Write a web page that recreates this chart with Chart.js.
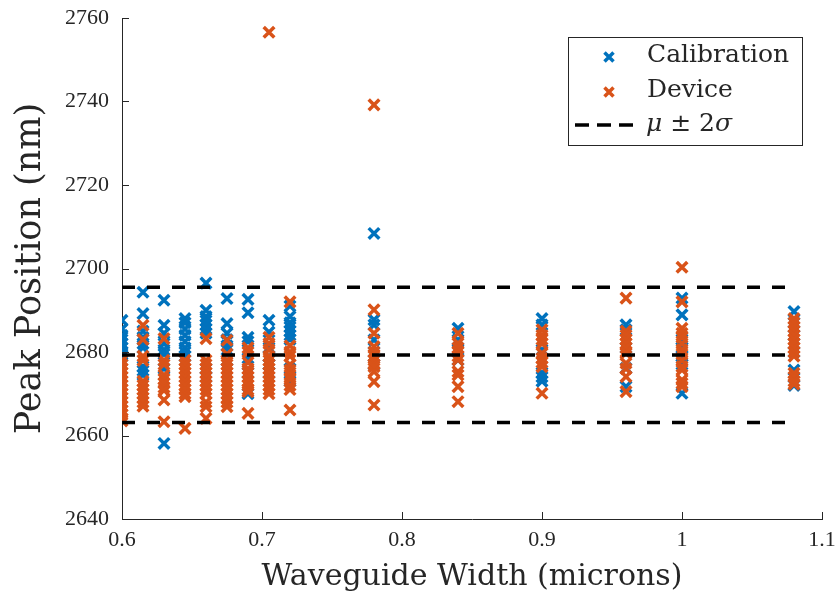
<!DOCTYPE html>
<html>
<head>
<meta charset="utf-8">
<script src="https://cdn.jsdelivr.net/npm/chart.js@4.4.1/dist/chart.umd.min.js"></script>
<style>
  html, body { margin: 0; padding: 0; background: #fff; }
  #wrap { width: 839px; height: 597px; }
</style>
</head>
<body>
<div id="wrap"><canvas id="peaks"></canvas></div>
<script>
const widths = [0.6, 0.615, 0.63, 0.645, 0.66, 0.675, 0.69, 0.705, 0.72, 0.78, 0.84, 0.9, 0.96, 1.0, 1.08];

const calibration = [
    [2687.6, 2685.5, 2684, 2683, 2682, 2681, 2680, 2679.5, 2679],
    [2694.3, 2689.2, 2685, 2683.5, 2682, 2681, 2676.5, 2675.5, 2674.5],
    [2692.4, 2686.4, 2684.5, 2682, 2680.5, 2679.5, 2676, 2658.1],
    [2688, 2687, 2685.5, 2684, 2682.5, 2681, 2680, 2679],
    [2696.5, 2690, 2688.5, 2687.5, 2686.5, 2685.5, 2684.5, 2676, 2674],
    [2692.8, 2686.8, 2684.5, 2683, 2681.5, 2680.5, 2678],
    [2692.6, 2689.4, 2683.5, 2682.5, 2678.5, 2675, 2670],
    [2687.6, 2684.8, 2681, 2679, 2677, 2675],
    [2691, 2688.5, 2687, 2686, 2685, 2684, 2683, 2676, 2673],
    [2708.4, 2687.7, 2686.5, 2682.9, 2680, 2677],
    [2685.7, 2682.9, 2680.5, 2678.1],
    [2688, 2686.5, 2680.5, 2675, 2674, 2673],
    [2686.5, 2685.3, 2681, 2676.1, 2671.7],
    [2692.9, 2688.9, 2683, 2681, 2679, 2677, 2670.1],
    [2689.7, 2687, 2684, 2680, 2675.7, 2672]
];

const device = [
    [2678, 2677, 2676, 2675, 2674, 2673, 2672, 2671, 2670, 2669, 2668, 2667, 2666, 2665, 2664, 2663.5],
    [2686.4, 2683, 2679, 2678, 2673, 2672, 2671, 2670, 2669, 2668, 2667],
    [2683.2, 2678, 2677, 2674.5, 2673.5, 2672.5, 2671.5, 2670.8, 2668.5, 2663.3],
    [2678, 2677, 2676, 2675, 2674, 2673, 2672, 2671, 2670, 2669.3, 2661.7],
    [2683.2, 2678, 2677, 2676, 2675, 2674, 2673, 2672, 2671, 2670, 2668, 2666.9, 2664.1],
    [2682.8, 2679.5, 2678, 2677, 2676, 2675, 2674, 2673, 2672, 2671, 2670, 2669, 2668, 2666.9],
    [2681, 2680, 2677.5, 2676, 2675, 2674, 2673, 2672, 2671, 2670.5, 2665.3],
    [2756.6, 2683.5, 2682, 2680.5, 2679, 2678, 2677, 2676, 2675, 2674, 2673, 2672, 2671, 2670],
    [2692, 2681.5, 2680, 2679, 2677, 2675.7, 2674.5, 2673.5, 2672, 2671, 2666.1],
    [2739.2, 2690.1, 2684.5, 2681.3, 2680, 2679, 2678, 2677, 2676.5, 2675.3, 2672.9, 2667.3],
    [2684.5, 2682.1, 2681, 2680, 2679, 2678.1, 2675.3, 2674.5, 2671.7, 2668.1],
    [2685.3, 2684, 2683, 2682, 2679.7, 2678.5, 2677.5, 2676.5, 2670.1],
    [2692.9, 2685, 2684, 2683, 2682, 2681, 2680, 2679.7, 2677.3, 2676, 2674.1, 2670.5],
    [2700.3, 2692, 2685.7, 2684.5, 2683.5, 2682, 2680.5, 2679.5, 2678, 2676.5, 2675.7, 2673.3, 2672.5, 2671.7],
    [2688, 2687, 2686, 2685, 2684, 2683, 2682, 2681, 2680, 2679, 2674.9, 2674, 2673, 2672.3]
];

// mu - 2sigma, mu, mu + 2sigma
const bandLevels = [2663.1, 2679.3, 2695.5];
const bandRange = [0.6, 1.08];

const xTicks = [0.6, 0.7, 0.8, 0.9, 1.0, 1.1];
const yTicks = [2640, 2660, 2680, 2700, 2720, 2740, 2760];

const BLUE = '#0072BD', ORANGE = '#D95319', INK = '#262626';
const TICKFONT = '"Liberation Serif", serif';
const TEXTFONT = '"DejaVu Serif", serif';

function toPoints(groups) {
    const pts = [];
    groups.forEach((vals, i) => vals.forEach(v => pts.push({ x: widths[i], y: v })));
    return pts;
}

const markerStyle = { pointStyle: 'crossRot', pointRadius: 7.5, pointBorderWidth: 3.5, showLine: false };

const datasets = [
    Object.assign({ label: 'Calibration', data: toPoints(calibration), borderColor: BLUE, backgroundColor: BLUE, order: 2 }, markerStyle),
    Object.assign({ label: 'Device', data: toPoints(device), borderColor: ORANGE, backgroundColor: ORANGE, order: 1 }, markerStyle)
];
bandLevels.forEach(level => {
    datasets.push({
        label: 'band', type: 'line', order: 0,
        data: bandRange.map(x => ({ x: x, y: level })),
        borderColor: '#000', borderWidth: 3.5, borderDash: [13, 12],
        pointRadius: 0, fill: false
    });
});

const inwardTicks = {
    id: 'inwardTicks',
    afterDraw(chart) {
        const { ctx, chartArea: a, scales: { x, y } } = chart;
        ctx.save();
        ctx.strokeStyle = INK;
        ctx.lineWidth = 1;
        ctx.beginPath();
        yTicks.forEach(v => { const p = Math.round(y.getPixelForValue(v)) + 0.5; ctx.moveTo(a.left, p); ctx.lineTo(a.left + 7, p); });
        xTicks.forEach(v => { const p = Math.round(x.getPixelForValue(v)) + 0.5; ctx.moveTo(p, a.bottom); ctx.lineTo(p, a.bottom - 7); });
        ctx.stroke();
        ctx.restore();
    }
};

const boxLegend = {
    id: 'boxLegend',
    afterDraw(chart) {
        const ctx = chart.ctx;
        ctx.save();
        ctx.fillStyle = '#fff';
        ctx.fillRect(568, 37, 234, 108);
        ctx.strokeStyle = INK;
        ctx.lineWidth = 1;
        ctx.strokeRect(568.5, 37.5, 234, 108);
        const cross = (cx, cy, color) => {
            ctx.strokeStyle = color; ctx.lineWidth = 3.5;
            ctx.beginPath();
            ctx.moveTo(cx - 4.5, cy - 4.5); ctx.lineTo(cx + 4.5, cy + 4.5);
            ctx.moveTo(cx + 4.5, cy - 4.5); ctx.lineTo(cx - 4.5, cy + 4.5);
            ctx.stroke();
        };
        cross(609, 57, BLUE);
        cross(609, 92, ORANGE);
        ctx.strokeStyle = '#000'; ctx.lineWidth = 3.5;
        ctx.setLineDash([14, 8]);
        ctx.beginPath(); ctx.moveTo(575, 125); ctx.lineTo(641, 125); ctx.stroke();
        ctx.setLineDash([]);
        ctx.fillStyle = INK;
        ctx.textBaseline = 'middle';
        ctx.font = '25px ' + TEXTFONT;
        ctx.fillText('Calibration', 647, 55);
        ctx.fillText('Device', 647, 90);
        const parts = [['μ', 'italic '], [' ± 2', ''], ['σ', 'italic ']];
        let px = 646;
        parts.forEach(([t, style]) => {
            ctx.font = style + '25px ' + TEXTFONT;
            ctx.fillText(t, px, 124);
            px += ctx.measureText(t).width;
        });
        ctx.restore();
    }
};

new Chart(document.getElementById('peaks'), {
    type: 'scatter',
    data: { datasets: datasets },
    options: {
        responsive: true,
        maintainAspectRatio: false,
        animation: false,
        layout: { padding: { top: 18, right: 17, left: 0, bottom: 0 } },
        plugins: { legend: { display: false }, tooltip: { enabled: false } },
        scales: {
            x: {
                type: 'linear', min: 0.6, max: 1.1,
                afterBuildTicks: s => { s.ticks = xTicks.map(v => ({ value: v })); },
                afterFit: s => { s.height = 78; s.paddingLeft = 0; s.paddingRight = 0; },
                grid: { drawOnChartArea: false, drawTicks: false },
                border: { display: true, color: INK, width: 1 },
                ticks: { color: INK, padding: 8, font: { family: TICKFONT, size: 22 }, maxRotation: 0,
                    callback: v => String(Math.round(v * 10) / 10) },
                title: { display: true, text: 'Waveguide Width (microns)', color: INK,
                    font: { family: TEXTFONT, size: 30 }, padding: { top: 0, bottom: 2 } }
            },
            y: {
                type: 'linear', min: 2640, max: 2760,
                afterBuildTicks: s => { s.ticks = yTicks.map(v => ({ value: v })); },
                afterFit: s => { s.width = 122; s.paddingTop = 0; s.paddingBottom = 0; },
                grid: { drawOnChartArea: false, drawTicks: false },
                border: { display: true, color: INK, width: 1 },
                ticks: { color: INK, padding: 13, font: { family: TICKFONT, size: 22 },
                    callback: v => String(v) },
                title: { display: true, text: 'Peak Position (nm)', color: INK,
                    font: { family: TEXTFONT, size: 35 }, padding: { top: 10, bottom: 0 } }
            }
        }
    },
    plugins: [inwardTicks, boxLegend]
});
</script>
</body>
</html>
